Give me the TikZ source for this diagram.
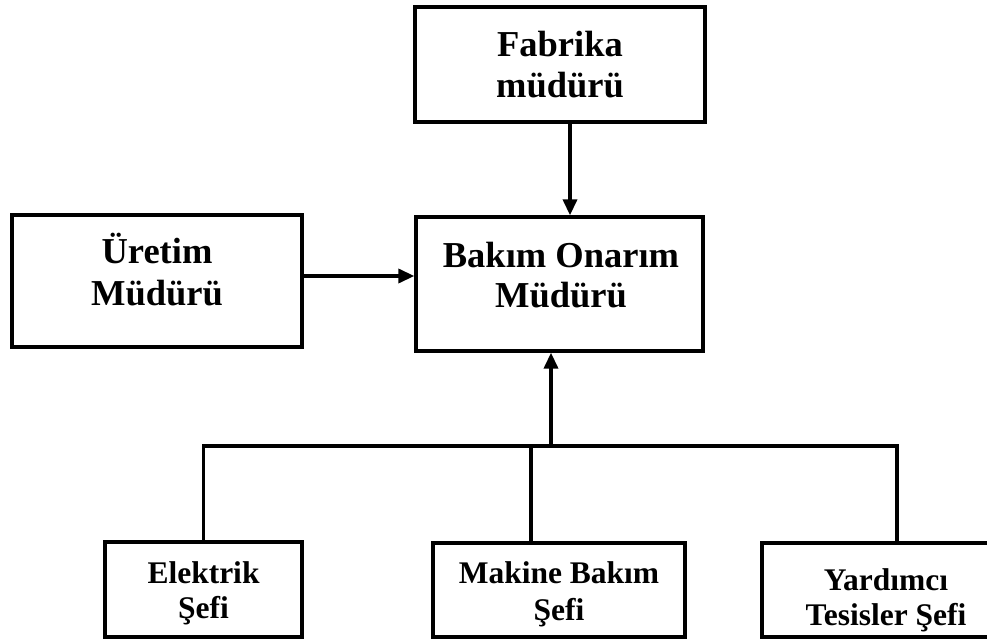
\documentclass[tikz,border=0pt]{standalone}
\usepackage{fontspec}
\setmainfont{Liberation Serif}
\usetikzlibrary{arrows.meta}
\begin{document}
\begin{tikzpicture}[x=1pt,y=-1pt,
  box/.style={draw, line width=3.3pt, inner sep=0pt, minimum width=#1},
  wire/.style={line width=3.5pt},
  arr/.style={line width=3.5pt, -{Triangle[length=16pt,width=14pt]}},
  big/.style={font=\fontsize{36.5}{40}\selectfont\bfseries, inner sep=0pt, anchor=base},
  small/.style={font=\fontsize{31.5}{36}\selectfont\bfseries, inner sep=0pt, anchor=base}]
\useasboundingbox (0,0) rectangle (987,639);
\clip (0,0) rectangle (987,639);

% boxes
\node[box=290pt, minimum height=115pt] (fab) at (560,64.5) {};
\node[box=287pt, minimum height=134pt] (bak) at (559.5,284) {};
\node[box=290pt, minimum height=132pt] (ure) at (157,281) {};
\node[box=197pt, minimum height=95pt]  (ele) at (203.5,589.5) {};
\node[box=252pt, minimum height=94pt]  (mak) at (559,590) {};
\node[box=248pt, minimum height=94pt]  (yar) at (886,590) {};

% labels
\node[big] (fabA) at (560,57) {Fabrika};
\node[big] (fabB) at (560,98) {müdürü};
\node[big] (bakA) at (561,267) {Bakım Onarım};
\node[big] (bakB) at (561,307) {Müdürü};
\node[big] (ureA) at (157,263) {Üretim};
\node[big] (ureB) at (157,305) {Müdürü};
\node[small] (eleA) at (203.5,583) {Elektrik};
\node[small] (eleB) at (203.5,618) {Şefi};
\node[small] (makA) at (559,583) {Makine Bakım};
\node[small] (makB) at (559,620) {Şefi};
\node[small] (yarA) at (886,590) {Yardımcı};
\node[small] (yarB) at (886,625) {Tesisler Şefi};

% connectors
\coordinate (fdrop) at ([xshift=10pt]fab.south);
\draw[arr] (fdrop) -- (fdrop |- bak.north);
\coordinate (uout) at ([yshift=5pt]ure.east);
\draw[arr] (uout) -- (uout -| bak.west);

\coordinate (j) at (551,446);
\coordinate (mdrop) at ([xshift=-28pt]mak.north);
\coordinate (ydrop) at ([xshift=11pt]yar.north);
\draw[wire] (ele.north) |- (ydrop |- j) -- (ydrop);
\draw[wire] (mdrop |- j) -- (mdrop);
\draw[arr] (j) -- (j |- bak.south);
\end{tikzpicture}
\end{document}
